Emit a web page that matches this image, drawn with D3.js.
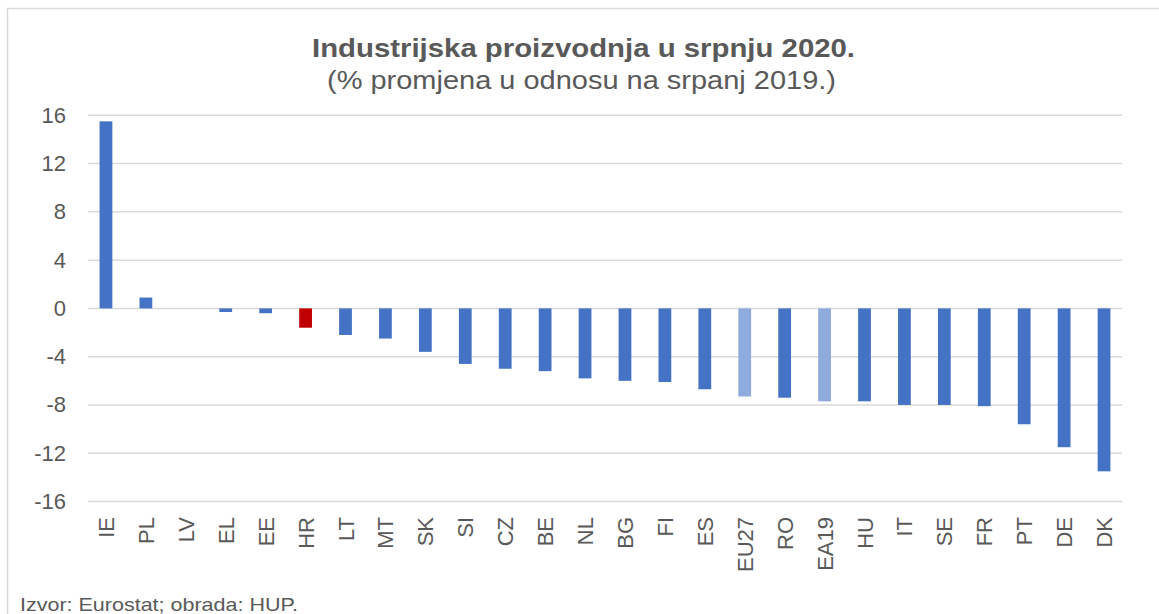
<!DOCTYPE html>
<html>
<head>
<meta charset="utf-8">
<script src="https://cdn.jsdelivr.net/npm/d3@7"></script>
<style>
  body { margin: 0; background: #fff; }
  text { font-family: "Liberation Sans", Arial, sans-serif; fill: #595959; }
</style>
</head>
<body>
<div class="chart"></div>
<script>
// data
var countries = ["IE", "PL", "LV", "EL", "EE", "HR", "LT", "MT", "SK", "SI", "CZ", "BE", "NL",
  "BG", "FI", "ES", "EU27", "RO", "EA19", "HU", "IT", "SE", "FR", "PT", "DE", "DK"];
var changes = [15.5, 0.9, 0, -0.3, -0.4, -1.6, -2.2, -2.5, -3.6, -4.6, -5.0, -5.2, -5.8,
  -6.0, -6.1, -6.7, -7.3, -7.4, -7.7, -7.7, -8.0, -8.0, -8.1, -9.6, -11.5, -13.5];
var yTicks = [16, 12, 8, 4, 0, -4, -8, -12, -16];
var aggregates = ["EU27", "EA19"];
var highlight = "HR";

var svgWidth = 1159;
var svgHeight = 614;

var svg = d3.select(".chart")
  .append("svg")
  .attr("width", svgWidth)
  .attr("height", svgHeight);

// outer frame
svg.append("rect")
  .attr("x", 7.5)
  .attr("y", 8.5)
  .attr("width", 1160)
  .attr("height", 620)
  .attr("fill", "none")
  .attr("stroke", "#d9d9d9")
  .attr("stroke-width", 1.5);

// title (reference glyphs are wide, so stretch to the measured width)
svg.append("text")
  .attr("x", 312)
  .attr("y", 57)
  .attr("textLength", 543)
  .attr("lengthAdjust", "spacingAndGlyphs")
  .style("font-size", "26px")
  .style("font-weight", "bold")
  .text("Industrijska proizvodnja u srpnju 2020.");

svg.append("text")
  .attr("x", 327)
  .attr("y", 89)
  .attr("textLength", 509)
  .attr("lengthAdjust", "spacingAndGlyphs")
  .style("font-size", "25px")
  .text("(% promjena u odnosu na srpanj 2019.)");

// scales
var xScale = d3.scaleBand()
  .domain(countries)
  .range([86, 1124])
  .paddingInner(0.68)
  .paddingOuter(0.34);

var yScale = d3.scaleLinear()
  .domain([-16, 16])
  .range([501.5, 115.3]);

// gridlines
svg.append("g")
  .selectAll("line")
  .data(yTicks)
  .enter()
  .append("line")
  .attr("x1", 88)
  .attr("x2", 1122)
  .attr("y1", d => yScale(d))
  .attr("y2", d => yScale(d))
  .attr("stroke", "#d9d9d9")
  .attr("stroke-width", 1.5);

// y axis labels, plain hyphen for negatives like the reference
var yAxis = d3.axisLeft(yScale)
  .tickValues(yTicks)
  .tickFormat(d => String(d))
  .tickSize(0)
  .tickPadding(0);
var yAxisG = svg.append("g")
  .attr("transform", "translate(66, 0)")
  .call(yAxis);
yAxisG.select(".domain").remove();
yAxisG.selectAll("text")
  .style("font-size", "22px")
  .style("font-family", "'Liberation Sans', Arial, sans-serif")
  .attr("fill", "#595959");

// bars
svg.append("g")
  .selectAll("rect")
  .data(countries)
  .enter()
  .append("rect")
  .attr("x", d => xScale(d))
  .attr("width", xScale.bandwidth())
  .attr("y", (d, i) => yScale(Math.max(0, changes[i])))
  .attr("height", (d, i) => Math.abs(yScale(changes[i]) - yScale(0)))
  .attr("fill", d => d === highlight ? "#c00000" : (aggregates.includes(d) ? "#8faadc" : "#4472c4"));

// x labels, rotated
svg.append("g")
  .selectAll("text")
  .data(countries)
  .enter()
  .append("text")
  .attr("transform", d => `translate(${xScale(d) + xScale.bandwidth() / 2 + 8}, 517) rotate(-90)`)
  .attr("text-anchor", "end")
  .style("font-size", "22px")
  .text(d => d);

// source
svg.append("text")
  .attr("x", 20)
  .attr("y", 611)
  .attr("textLength", 278)
  .attr("lengthAdjust", "spacingAndGlyphs")
  .style("font-size", "19px")
  .text("Izvor: Eurostat; obrada: HUP.");
</script>
</body>
</html>
